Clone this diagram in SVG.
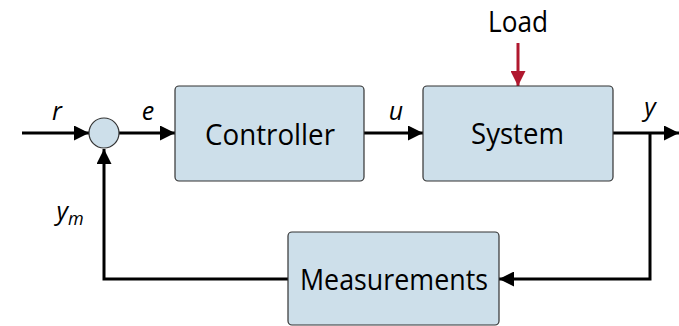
<svg xmlns="http://www.w3.org/2000/svg" width="679" height="326" viewBox="0 0 679 326">
<defs>
<marker id="ah" viewBox="0 0 10 10" refX="10" refY="5" markerWidth="6.6" markerHeight="5" markerUnits="strokeWidth" orient="auto">
<path d="M0,0 L10,5 L0,10 z" fill="#000"/>
</marker>
<marker id="ahr" viewBox="0 0 10 10" refX="10" refY="5" markerWidth="6.6" markerHeight="5" markerUnits="strokeWidth" orient="auto">
<path d="M0,0 L10,5 L0,10 z" fill="#b0182f"/>
</marker>
</defs>
<style>
.box{fill:#cddfea;stroke:#333;stroke-width:1.2}
.t{font-family:"Open Sans","DejaVu Sans",sans-serif;font-size:29px;fill:#000;text-anchor:middle}
.m{font-family:"Open Sans","DejaVu Sans",sans-serif;font-style:italic;font-size:25px;fill:#000;text-anchor:middle}
.w{fill:none;stroke:#000;stroke-width:3}
</style>
<rect width="679" height="326" fill="#fff"/>
<g id="connectors">
<line class="w" x1="22" y1="133" x2="89" y2="133" marker-end="url(#ah)"/>
<line class="w" x1="119" y1="133" x2="175" y2="133" marker-end="url(#ah)"/>
<line class="w" x1="364" y1="133" x2="423" y2="133" marker-end="url(#ah)"/>
<line class="w" x1="613" y1="133" x2="679" y2="133" marker-end="url(#ah)"/>
<polyline class="w" points="650,133 650,279 499,279" marker-end="url(#ah)"/>
<polyline class="w" points="288,279 104,279 104,149" marker-end="url(#ah)"/>
<line fill="none" stroke="#b0182f" stroke-width="3" x1="518" y1="43" x2="518" y2="86" marker-end="url(#ahr)"/>
</g>
<g id="sum"><circle cx="104" cy="133" r="15" class="box"/></g>
<g id="controller"><rect class="box" x="175" y="86" width="189" height="95" rx="4"/><text class="t" x="270" y="145" textLength="130" lengthAdjust="spacingAndGlyphs">Controller</text></g>
<g id="system"><rect class="box" x="423" y="86" width="190" height="95" rx="4"/><text class="t" x="517.5" y="144" textLength="93" lengthAdjust="spacingAndGlyphs">System</text></g>
<g id="measurements"><rect class="box" x="288" y="232" width="211" height="93" rx="4"/><text class="t" x="394" y="290" textLength="188" lengthAdjust="spacingAndGlyphs">Measurements</text></g>
<g id="load"><text class="t" x="518" y="32" textLength="60" lengthAdjust="spacingAndGlyphs">Load</text></g>
<g id="labels">
<text class="m" x="57" y="120">r</text>
<text class="m" x="148" y="120">e</text>
<text class="m" x="396" y="120">u</text>
<text class="m" x="650" y="116">y</text>
<text class="m" x="70" y="220">y<tspan font-size="18" dy="5">m</tspan></text>
</g>
</svg>
